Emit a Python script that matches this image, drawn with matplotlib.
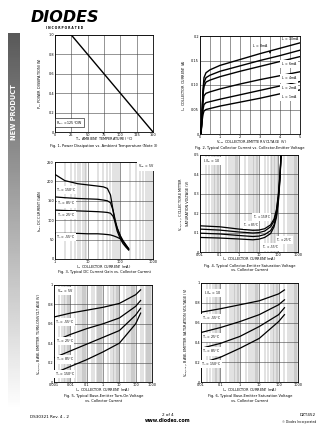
import numpy as np
import matplotlib
matplotlib.use("Agg")
import matplotlib.pyplot as plt

W, H = 336, 434

# Fig 1: power dissipation
ta = [0, 25, 150]
pd_w = [1.0, 1.0, 0.0]

# Fig 2: Ic vs Vce
vce = [0, 0.05, 0.1, 0.15, 0.2, 0.3, 0.5, 1, 2, 3, 4, 5]
ic_10ma = [0, 0, 0.04, 0.09, 0.115, 0.125, 0.131, 0.140, 0.152, 0.164, 0.175, 0.186]
ic_8ma = [0, 0, 0.04, 0.085, 0.105, 0.115, 0.120, 0.128, 0.139, 0.150, 0.160, 0.171]
ic_6ma = [0, 0, 0.04, 0.08, 0.097, 0.106, 0.110, 0.117, 0.128, 0.138, 0.148, 0.158]
ic_4ma = [0, 0, 0.035, 0.065, 0.078, 0.083, 0.086, 0.092, 0.102, 0.111, 0.119, 0.127]
ic_2ma = [0, 0, 0.03, 0.05, 0.060, 0.064, 0.066, 0.071, 0.080, 0.089, 0.098, 0.107]
ic_1ma = [0, 0, 0.025, 0.04, 0.047, 0.050, 0.052, 0.057, 0.065, 0.073, 0.082, 0.090]
ib_labels = ["10mA", "8mA", "6mA", "4mA", "2mA", "1mA"]

# Fig 3: hFE vs Ic
ic3 = [1, 2, 5, 10, 20, 30, 40, 50, 60, 70, 80, 100, 120, 150, 180]
hfe_150 = [218, 202, 194, 191, 188, 186, 182, 165, 125, 92, 72, 52, 40, 30, 23]
hfe_85 = [160, 158, 156, 155, 154, 152, 150, 145, 125, 100, 80, 58, 45, 33, 25]
hfe_25 = [126, 125, 124, 123, 122, 121, 120, 118, 110, 95, 80, 60, 48, 36, 27]
hfe_m55 = [66, 66, 66, 65, 65, 64, 63, 62, 60, 58, 56, 52, 45, 35, 25]

# Fig 4: Vce(sat) vs Ic
ic4 = [0.01, 0.1, 1, 5, 10, 20, 40, 60, 80, 100, 120, 140]
vcesat_a = [0.135, 0.130, 0.118, 0.112, 0.113, 0.120, 0.140, 0.170, 0.220, 0.300, 0.400, 0.520]
vcesat_b = [0.118, 0.113, 0.103, 0.098, 0.100, 0.108, 0.130, 0.160, 0.210, 0.290, 0.390, 0.520]
vcesat_c = [0.097, 0.093, 0.085, 0.080, 0.082, 0.090, 0.110, 0.140, 0.190, 0.270, 0.380, 0.520]
vcesat_d = [0.075, 0.072, 0.067, 0.063, 0.066, 0.075, 0.095, 0.130, 0.180, 0.260, 0.370, 0.520]

# Fig 5: Vbe(on) vs Ic
ic5 = [0.001, 0.01, 0.1, 1, 10, 100, 200]
vbeon_m55 = [0.67, 0.71, 0.74, 0.77, 0.81, 0.90, 0.95]
vbeon_25 = [0.42, 0.49, 0.55, 0.60, 0.66, 0.78, 0.84]
vbeon_85 = [0.25, 0.32, 0.39, 0.46, 0.53, 0.69, 0.76]
vbeon_150 = [0.09, 0.16, 0.23, 0.31, 0.40, 0.60, 0.71]

# Fig 6: Vbe(sat) vs Ic
ic6 = [0.01, 0.1, 1, 10, 100, 200]
vbesat_m55 = [0.705, 0.74, 0.78, 0.82, 0.89, 0.93]
vbesat_25 = [0.50, 0.55, 0.61, 0.68, 0.78, 0.83]
vbesat_85 = [0.34, 0.39, 0.46, 0.56, 0.68, 0.75]
vbesat_150 = [0.19, 0.25, 0.34, 0.44, 0.61, 0.68]

temps = ["-55°C", "25°C", "85°C", "150°C"]

FS = 2.5
CFS = 2.6
fig = plt.figure(figsize=(W / 100, H / 100), dpi=100)
fig.patch.set_facecolor("white")


def px(x, y):
    return x / W, 1 - y / H


def make_ax(l, t, r, b):
    ax = fig.add_axes([l / W, 1 - b / H, (r - l) / W, (b - t) / H])
    for s in ax.spines.values():
        s.set_linewidth(0.6)
    ax.tick_params(length=0, pad=0.8, labelsize=FS)
    return ax


def log_grid(ax):
    ax.set_xscale("log")
    ax.grid(True, which="major", axis="both", color="#444444", lw=0.4)
    ax.grid(True, which="minor", axis="x", color="#777777", lw=0.3)
    ax.tick_params(which="minor", length=0)


def xlab(x, y, s):
    fig.text(*px(x, y), s, fontsize=FS, ha="center", va="center")


def caption(x, y, lines):
    for i, s in enumerate(lines):
        fig.text(*px(x, y + i * 4.3), s, fontsize=CFS, ha="center", va="center")


lbl_box = dict(fc="white", ec="none", pad=0.3)

# left band
band = fig.add_axes([8 / W, 1 - 410 / H, 12 / W, 377 / H])
grad = np.linspace(0.35, 1.0, 200).reshape(-1, 1)
band.imshow(grad, aspect="auto", cmap="gray", vmin=0, vmax=1)
band.axis("off")
fig.text(*px(14, 112), "NEW PRODUCT", rotation=90, color="white", fontsize=4.8,
         fontweight="bold", ha="center", va="center")

# header
fig.text(*px(65, 17), "DIODES", fontsize=11.5, fontweight="heavy", fontstyle="italic",
         ha="center", va="center", color="black")
fig.text(*px(65, 28), "I N C O R P O R A T E D", fontsize=2.2, fontweight="bold",
         ha="center", va="center")

# Fig 1
ax1 = make_ax(55, 35, 153, 132)
ax1.plot(ta, pd_w, color="black", lw=1.0)
ax1.set_xlim(0, 150)
ax1.set_ylim(0, 1.0)
ax1.set_xticks(np.arange(0, 151, 25))
ax1.set_yticks(np.arange(0, 1.01, 0.2))
ax1.set_yticklabels(["0", "0.2", "0.4", "0.6", "0.8", "1.0"])
ax1.grid(True, color="#444444", lw=0.4)
ax1.text(22, 0.1, r"$\mathregular{R_{\theta JA}}$ = 125°C/W", fontsize=2.3, ha="center",
         va="center", bbox=dict(boxstyle="square,pad=0.4", fc="white", ec="black", lw=0.4))
ax1.set_ylabel(r"$\mathregular{P_D}$, POWER DISSIPATION (W)", fontsize=FS, labelpad=3)
xlab(104, 139.5, r"$\mathregular{T_A}$, AMBIENT TEMPERATURE (°C)")
caption(104, 146, ["Fig. 1, Power Dissipation vs. Ambient Temperature (Note 3)"])

# Fig 2
ax2 = make_ax(200, 36, 300, 134)
for ic in [ic_10ma, ic_8ma, ic_6ma, ic_4ma, ic_2ma, ic_1ma]:
    ax2.plot(vce, ic, color="black", lw=1.0)
ax2.set_xlim(0, 5)
ax2.set_ylim(0, 0.2)
ax2.set_xticks(range(6))
ax2.set_xticks(np.arange(0, 5.01, 0.5), minor=True)
ax2.set_yticks([0, 0.05, 0.1, 0.15, 0.2])
ax2.set_yticklabels(["0", "0.05", "0.10", "0.15", "0.2"])
ax2.grid(True, which="both", color="#444444", lw=0.4)
ax2.tick_params(which="minor", length=0)
ax2.text(4.5, 0.193, r"$\mathregular{I_B}$ = 10mA", fontsize=2.3, ha="center", va="center")
ax2.text(3.0, 0.180, r"$\mathregular{I_B}$ = 8mA", fontsize=2.3, ha="center", va="center")
ax2.annotate("", xy=(3.5, 0.158), xytext=(3.5, 0.175),
             arrowprops=dict(arrowstyle="-|>", lw=0.4, color="black", mutation_scale=3))
for y, lab in zip([0.143, 0.113, 0.093, 0.075], ib_labels[2:]):
    ax2.text(4.45, y, r"$\mathregular{I_B}$ = " + lab, fontsize=2.3, ha="center", va="center",
             bbox=lbl_box)
ax2.set_ylabel(r"$\mathregular{I_C}$, COLLECTOR CURRENT (A)", fontsize=FS, labelpad=2)
xlab(252, 141.8, r"$\mathregular{V_{CE}}$, COLLECTOR-EMITTER VOLTAGE (V)")
caption(250, 147.5, ["Fig. 2, Typical Collector Current vs. Collector-Emitter Voltage"])

# Fig 3
ax3 = make_ax(55, 162, 153, 259)
log_grid(ax3)
for h in [hfe_150, hfe_85, hfe_25, hfe_m55]:
    ax3.plot(ic3, h, color="black", lw=0.9)
ax3.set_xlim(1, 1000)
ax3.set_ylim(0, 250)
ax3.set_yticks(range(0, 251, 50))
ax3.set_xticks([1, 10, 100, 1000])
ax3.set_xticklabels(["1", "10", "100", "1000"])
for y, t in zip([178, 143, 113, 56], ["150°C", "85°C", "25°C", "-55°C"]):
    ax3.text(2.2, y, r"$\mathregular{T_A}$ = " + t, fontsize=2.3, ha="center", va="center",
             bbox=lbl_box)
ax3.text(600, 238, r"$\mathregular{V_{CE}}$ = 5V", fontsize=2.3, ha="center", va="center",
         bbox=lbl_box)
ax3.set_ylabel(r"$\mathregular{h_{FE}}$, DC CURRENT GAIN", fontsize=FS, labelpad=2)
xlab(104, 266.8, r"$\mathregular{I_C}$, COLLECTOR CURRENT (mA)")
caption(104, 272.2, ["Fig. 3, Typical DC Current Gain vs. Collector Current"])

# Fig 4
ax4 = make_ax(200, 155, 298, 252)
log_grid(ax4)
for v in [vcesat_a, vcesat_b, vcesat_c, vcesat_d]:
    ax4.plot(ic4, v, color="black", lw=0.9)
ax4.set_xlim(0.01, 1000)
ax4.set_ylim(0, 0.5)
ax4.set_yticks([0, 0.1, 0.2, 0.3, 0.4, 0.5])
ax4.set_yticklabels(["0", "0.1", "0.2", "0.3", "0.4", "0.5"])
ax4.set_xticks([0.01, 0.1, 1, 10, 100, 1000])
ax4.set_xticklabels(["0.01", "0.1", "1", "10", "100", "1000"])
ax4.text(0.04, 0.47, r"$\mathregular{I_C/I_B}$ = 10", fontsize=2.3, ha="center", va="center",
         bbox=lbl_box)
ax4.text(14, 0.18, r"$\mathregular{T_A}$ = 150°C", fontsize=2.1, ha="center", va="center",
         bbox=dict(fc="white", ec="none", pad=0.2))
ax4.text(4, 0.14, r"$\mathregular{T_A}$ = 85°C", fontsize=2.1, ha="center", va="center",
         bbox=dict(fc="white", ec="none", pad=0.2))
ax4.text(200, 0.06, r"$\mathregular{T_A}$ = 25°C", fontsize=2.1, ha="center", va="center",
         bbox=dict(fc="white", ec="none", pad=0.2))
ax4.text(40, 0.025, r"$\mathregular{T_A}$ = -55°C", fontsize=2.1, ha="center", va="center",
         bbox=dict(fc="white", ec="none", pad=0.2))
ax4.set_ylabel(r"$\mathregular{V_{CE(SAT)}}$, COLLECTOR-EMITTER" + "\nSATURATION VOLTAGE (V)",
               fontsize=FS, labelpad=2, linespacing=1.1)
xlab(249, 259.5, r"$\mathregular{I_C}$, COLLECTOR CURRENT(mA)")
caption(250, 266, ["Fig. 4, Typical Collector-Emitter Saturation Voltage",
                   "vs. Collector Current"])

# Fig 5
ax5 = make_ax(54, 285, 152, 382)
log_grid(ax5)
for v in [vbeon_m55, vbeon_25, vbeon_85, vbeon_150]:
    ax5.plot(ic5, v, color="black", lw=0.9)
ax5.set_xlim(0.001, 1000)
ax5.set_ylim(0, 1)
ax5.set_yticks([0, 0.2, 0.4, 0.6, 0.8, 1])
ax5.set_yticklabels(["0", "0.2", "0.4", "0.6", "0.8", "1"])
ax5.set_xticks([0.001, 0.01, 0.1, 1, 10, 100, 1000])
ax5.set_xticklabels(["0.001", "0.01", "0.1", "1", "10", "100", "1000"])
ax5.text(0.005, 0.94, r"$\mathregular{V_{CE}}$ = 5V", fontsize=2.3, ha="center", va="center",
         bbox=lbl_box)
for y, t in zip([0.62, 0.42, 0.23, 0.08], temps):
    ax5.text(0.0045, y, r"$\mathregular{T_A}$ = " + t, fontsize=2.3, ha="center", va="center",
             bbox=lbl_box)
ax5.set_ylabel(r"$\mathregular{V_{BE(ON)}}$, BASE-EMITTER TURN-ON VOLTAGE (V)", fontsize=FS, labelpad=2)
xlab(103, 390, r"$\mathregular{I_C}$, COLLECTOR CURRENT (mA)")
caption(104, 396.3, ["Fig. 5, Typical Base-Emitter Turn-On Voltage", "vs. Collector Current"])

# Fig 6
ax6 = make_ax(201, 283, 298, 382)
log_grid(ax6)
for v in [vbesat_m55, vbesat_25, vbesat_85, vbesat_150]:
    ax6.plot(ic6, v, color="black", lw=0.9)
ax6.set_xlim(0.01, 1000)
ax6.set_ylim(0, 1)
ax6.set_yticks([0, 0.2, 0.4, 0.6, 0.8, 1])
ax6.set_yticklabels(["0", "0.2", "0.4", "0.6", "0.8", "1"])
ax6.set_xticks([0.01, 0.1, 1, 10, 100, 1000])
ax6.set_xticklabels(["0.01", "0.1", "1", "10", "100", "1000"])
ax6.text(0.04, 0.9, r"$\mathregular{I_C/I_B}$ = 10", fontsize=2.3, ha="center", va="center",
         bbox=lbl_box)
for y, t in zip([0.64, 0.45, 0.31, 0.18], temps):
    ax6.text(0.035, y, r"$\mathregular{T_A}$ = " + t, fontsize=2.3, ha="center", va="center",
             bbox=lbl_box)
ax6.set_ylabel(r"$\mathregular{V_{BE(SAT)}}$, BASE-EMITTER SATURATION VOLTAGE (V)", fontsize=FS, labelpad=2)
xlab(250, 390, r"$\mathregular{I_C}$, COLLECTOR CURRENT (mA)")
caption(250, 396.3, ["Fig. 6, Typical Base-Emitter Saturation Voltage", "vs. Collector Current"])

# footer
fig.text(*px(30, 417), "DS30321 Rev. 4 - 2", fontsize=3.0, ha="left", va="center")
fig.text(*px(168, 415.5), "2 of 4", fontsize=3.0, ha="center", va="center")
fig.text(*px(168, 421), "www.diodes.com", fontsize=3.4, fontweight="bold", ha="center", va="center")
fig.text(*px(316, 415.5), "DZT452", fontsize=3.0, ha="right", va="center")
fig.text(*px(316, 421.5), "© Diodes Incorporated", fontsize=2.2, ha="right", va="center")

fig.savefig("out.png", dpi=100)
